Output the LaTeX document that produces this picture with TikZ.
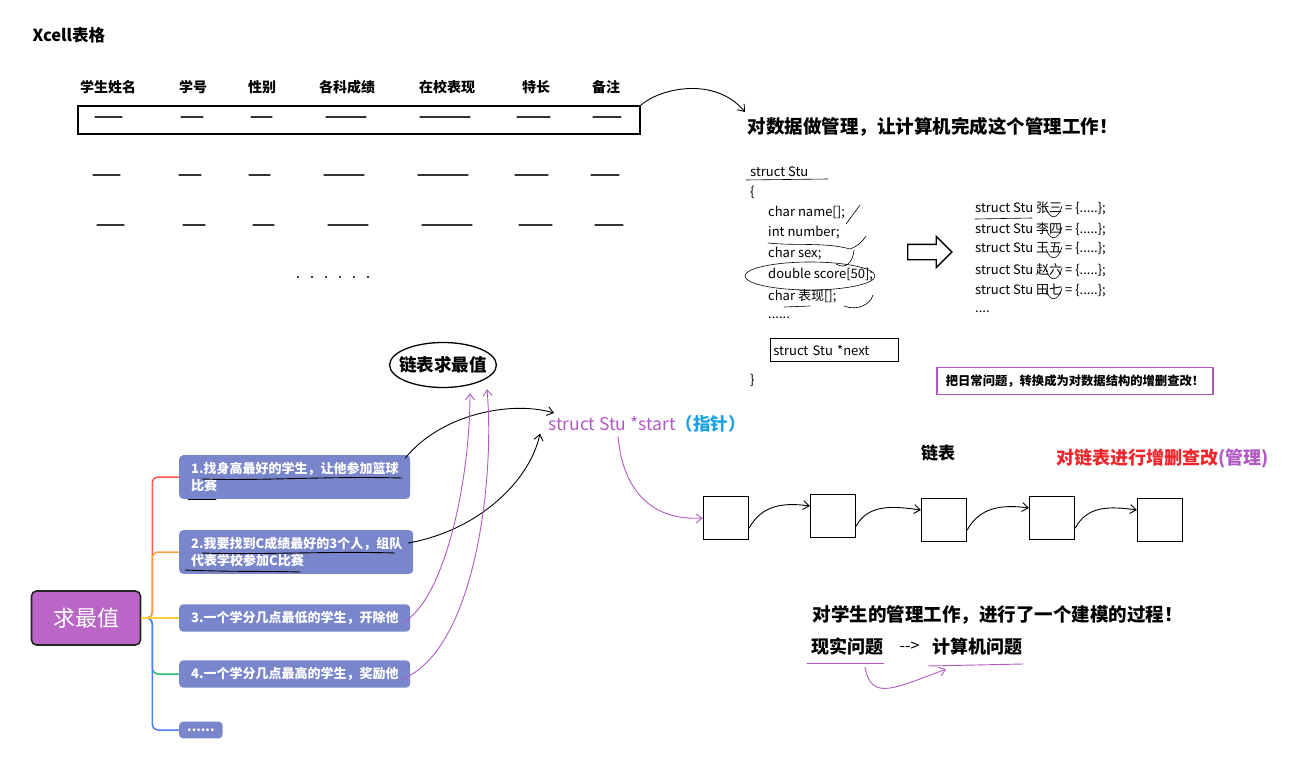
\documentclass[tikz,border=0pt]{standalone}
\usepackage{fontspec}
\setmainfont{Noto Sans CJK SC}
\usetikzlibrary{shapes, shapes.arrows, arrows.meta, positioning, calc}

\definecolor{rootpurple}{RGB}{185,102,199}
\definecolor{leafblue}{RGB}{122,134,203}
\definecolor{inkpurple}{RGB}{178,90,196}
\definecolor{ptrblue}{RGB}{28,160,230}
\definecolor{hotred}{RGB}{240,38,44}
\definecolor{brred}{RGB}{255,88,80}
\definecolor{brorange}{RGB}{255,160,64}
\definecolor{bryellow}{RGB}{255,210,60}
\definecolor{brgreen}{RGB}{40,190,110}
\definecolor{brblue}{RGB}{80,125,255}

\newcommand{\fsz}[2]{\fontsize{#1}{#2}\selectfont}

\tikzset{
  head/.style={font=\fsz{14}{16}\bfseries},
  code/.style={anchor=west, inner sep=0pt, font=\fsz{13}{15}},
  ink/.style={line width=0.9pt, line cap=round, line join=round},
  tip/.style={-{Straight Barb[length=6pt,width=9pt]}},
  listbox/.style={draw, line width=1.4pt, minimum width=45, minimum height=43},
  leaf/.style={fill=leafblue, rounded corners=4pt, text=white, anchor=west, align=left,
    font=\fsz{13}{17}\bfseries, inner xsep=12pt, inner ysep=7pt},
  branch/.style={line width=1.5pt, rounded corners=6pt},
}

\begin{document}
\begin{tikzpicture}[x=1pt, y=-1pt]
\useasboundingbox (0,0) rectangle (1306,765);

% table
\node (xcell) [anchor=west, font=\fsz{16.5}{19}\bfseries] at (29,35) {Xcell表格};
\foreach \x/\t [count=\i] in {108/学生姓名, 193/学号, 262/性别, 347/各科成绩, 447/在校表现, 536/特长, 606/备注}
  \node (col\i) [head] at (\x,87) {\t};
\node (row) [draw, line width=1.3pt, minimum width=562, minimum height=28, inner sep=0pt] at (359,120) {};
\foreach \y/\dx in {117/0, 175/-2, 225/2}
  \foreach \a/\b in {95/122, 181/203, 251/272, 326/366, 420/470, 517/550, 593/621}
    \draw[ink, black!80, line width=1.1pt] ({\a+\dx},\y) -- ({\b+\dx},\y);
\foreach \x in {298,312,...,368}
  \fill (\x,277) circle (1.1);
\draw[ink, tip] (row.north east) .. controls (660,88) and (715,76) .. (745,112);

% struct
\node (goal) [anchor=west, font=\fsz{18.5}{21}\bfseries] at (744,127) {对数据做管理，让计算机完成这个管理工作！};
\node (stu) [code] at (750,172) {struct Stu};
\node (lbrace) [code] at (750,192) {\{};
\foreach \y/\t [count=\i] in {213/{char name[];}, 233/{int number;}, 254/{char sex;}, 275/{double score[50];}, 296/{char 表现[];}, 318/{......}}
  \node (field\i) [code] at (768,\y) {\t};
\node (next) [code, draw, line width=0.7pt, inner sep=3pt, text width=122, minimum height=23] at (770,350) {struct Stu *next};
\node (rbrace) [code] at (750,380) {\}};
\draw[ink, line width=0.6pt] (746,180) -- (828,179);
\draw[ink, line width=0.6pt] (846,224) -- (860,205);
\draw[ink, line width=0.6pt] (768,243) .. controls (795,246) and (825,242) .. (850,249) .. controls (858,246) and (862,242) .. (866,236);
\draw[ink, line width=0.6pt] (836,264) .. controls (846,270) and (853,262) .. (854,250);
\draw[ink, line width=0.6pt] (810,276) ellipse [x radius=65, y radius=14];
\draw[ink, line width=0.6pt] (784,307) -- (810,306);
\draw[ink, line width=0.6pt] (844,306) .. controls (857,311) and (870,305) .. (873,295);

\node (conv) [single arrow, draw, line width=1.3pt, inner sep=7pt, minimum height=44, single arrow head extend=8pt] at (926,252) {};

\foreach \y/\n [count=\i] in {208/张三, 229/李四, 249/王五, 270/赵六, 290/田七}
  \node (obj\i) [code] at (975,\y) {struct Stu \n\ = \{.....\};};
\node (objmore) [code] at (975,312) {....};
\draw[ink, line width=0.6pt] (975,219) -- (1032,218);
\foreach \y in {208,229,249,270,290}
  \draw[ink, line width=0.6pt] (1046,\y) .. controls (1050,{\y+12}) and (1058,{\y+12}) .. (1062,{\y-2});

\node (summary) [draw=inkpurple, line width=1.1pt, minimum width=276, minimum height=27, font=\fsz{12.3}{14}\bfseries] at (1075,381) {把日常问题，转换成为对数据结构的增删查改！};

% linked list
\node (maxlist) [ellipse, draw, line width=1.3pt, minimum height=45, inner xsep=-6pt, inner ysep=1pt, font=\fsz{17.5}{20}\bfseries] at (443,365) {链表求最值};
\node (start) [anchor=west, inner sep=0pt, font=\fsz{17.5}{20}, text=inkpurple] at (548,424) {struct Stu *start\textcolor{ptrblue}{\bfseries （指针）}};
\foreach \x/\y [count=\i] in {726/518, 833/516, 944/520, 1052/518, 1160/520}
  \node (ln\i) [listbox] at (\x,\y) {};
\foreach \i [evaluate=\i as \j using int(\i+1)] in {1,...,4}
  \draw[ink, tip] ($(ln\i.east)+(0,10)$) .. controls +(12,-22) and +(-28,-4) .. ($(ln\j.west)+(0,-10)$);
\node (listname) [font=\fsz{17}{20}\bfseries] at (938,453) {链表};
\node (crud) [anchor=west, font=\fsz{18}{21}\bfseries, text=hotred] at (1053,459) {对链表进行增删查改\textcolor{inkpurple}{(管理)}};
\draw[ink, inkpurple, tip] ($(start.south west)+(70,4)$) .. controls +(5,55) and +(-50,3) .. (ln1.west);

% modelling
\node (model) [anchor=west, font=\fsz{18.5}{21}\bfseries] at (809,615) {对学生的管理工作，进行了一个建模的过程！};
\node (real) [anchor=west, font=\fsz{18}{21}\bfseries] at (808,647) {现实问题};
\node (goesto) [right=9pt of real, font=\fsz{16}{18}] {{-}{-}{>}};
\node (comp) [right=6pt of goesto, font=\fsz{18}{21}\bfseries] {计算机问题};
\draw[ink, inkpurple] (807,663) -- (884,663);
\draw[ink, inkpurple] (928,666) -- (1023,664);
\draw[ink, inkpurple, tip] ($(real.south east)+(-22,8)$) .. controls +(6,35) and +(-50,18) .. ($(comp.south west)+(17,10)$);

% mind map
\node (root) [draw=black!85, line width=1.6pt, fill=rootpurple, rounded corners=5pt, minimum width=109, minimum height=54, text=white, font=\fsz{22}{24}] at (86,618) {求最值};
\node (q1) [leaf, text width=207] at (179,477) {1.找身高最好的学生，让他参加篮球\\比赛};
\node (q2) [leaf, text width=210] at (179,552) {2.我要找到C成绩最好的3个人，组队\\代表学校参加C比赛};
\node (q3) [leaf, text width=207] at (179,618) {3.一个学分几点最低的学生，开除他};
\node (q4) [leaf, text width=207] at (179,674) {4.一个学分几点最高的学生，奖励他};
\node (q5) [leaf, inner xsep=8pt] at (179,730) {......};
\draw[branch, brred] (root.east) -- ++(11,0) |- (q1.west);
\draw[branch, brorange] (root.east) -- ++(11,0) |- (q2.west);
\draw[branch, brgreen] (root.east) -- ++(11,0) |- (q4.west);
\draw[branch, brblue] (root.east) -- ++(11,0) |- (q5.west);
\draw[branch, bryellow] (root.east) -- (q3.west);
\draw[ink] (202,479) .. controls (260,481) and (330,476) .. (402,478);
\draw[ink] (188,499) -- (216,499);
\draw[ink] (202,553) .. controls (260,555) and (330,551) .. (395,553);
\draw[ink] (185,570) .. controls (230,572) and (270,571) .. (300,572);

\draw[ink, tip] ($(q1.north east)+(-5,3)$) .. controls (440,415) and (510,400) .. ($(start.west)+(6,-11)$);
\draw[ink, tip] ($(q2.east)+(-5,-9)$) .. controls (480,530) and (530,480) .. ($(start.south west)+(-8,1)$);
\draw[ink, inkpurple, tip] ($(q3.east)+(-8,5)$) .. controls (445,600) and (470,480) .. ($(maxlist.south)+(27,5)$);
\draw[ink, inkpurple, tip] ($(q4.east)+(-8,5)$) .. controls (475,650) and (495,480) .. ($(maxlist.south)+(44,1)$);
\end{tikzpicture}
\end{document}
